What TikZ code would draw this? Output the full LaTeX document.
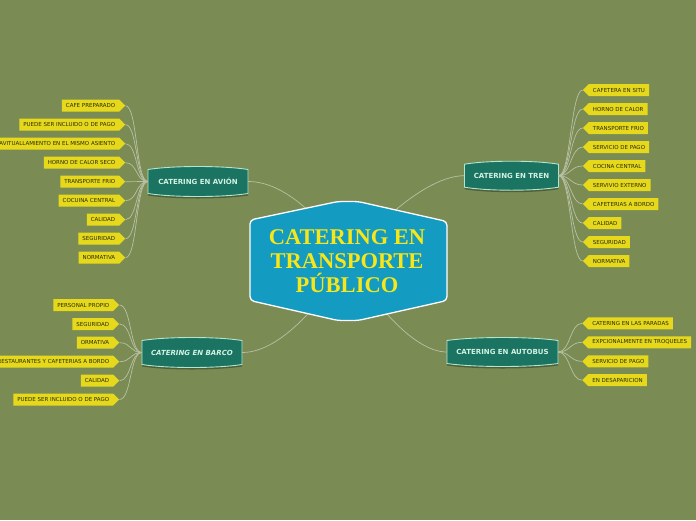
\documentclass[tikz,border=0pt]{standalone}
\usepackage{fontspec}
\setmainfont{Liberation Serif}
\newfontfamily\leaffont{DejaVu Sans}
\usetikzlibrary{shapes.symbols,calc}
\definecolor{bg}{HTML}{7A8C54}
\definecolor{centerfill}{HTML}{139BC1}
\definecolor{centertext}{HTML}{F7E619}
\definecolor{brfill}{HTML}{1B7461}
\definecolor{brline}{HTML}{B2E6D0}
\definecolor{brtext}{HTML}{D2F2E4}
\definecolor{brshadow}{HTML}{4E5F38}
\definecolor{leaffill}{HTML}{E6D81B}
\definecolor{leaftext}{HTML}{2A2A10}
\definecolor{conncol}{HTML}{B9C0A6}
\tikzset{
  conn/.style={draw=conncol, line width=0.7pt},
  leafbase/.style={signal, fill=leaffill, text=leaftext,
    font=\leaffont\fontsize{5.5}{6}\selectfont,
    minimum height=12pt, inner ysep=0pt, inner xsep=4pt, signal pointer angle=90},
  leafL/.style={leafbase, signal to=east, anchor=east},
  leafR/.style={leafbase, signal to=west, anchor=west},
  brlabel/.style={text=brtext, font=\leaffont\bfseries\fontsize{7}{8}\selectfont, inner sep=0pt},
  bigtext/.style={text=centertext, align=center, font=\bfseries\fontsize{22.5}{24}\selectfont, inner sep=0pt}
}
\newcommand\mybranch[7]{%
  \begin{scope}[shift={(#2,#3)}]
    \fill[brshadow] (-#4,{-#5+4}) .. controls ({-#4/2},{-#5}) and ({#4/2},{-#5}) .. (#4,{-#5+4}) -- (#4,{#5-0.5}) .. controls ({#4/2},{#5+3.5}) and ({-#4/2},{#5+3.5}) .. (-#4,{#5-0.5}) -- cycle;
    \filldraw[fill=brfill, draw=brline, line width=0.9pt] (-#4,{-#5+2.5}) .. controls ({-#4/2},{-#5-1.5}) and ({#4/2},{-#5-1.5}) .. (#4,{-#5+2.5}) -- (#4,{#5-2.5}) .. controls ({#4/2},{#5+1.5}) and ({-#4/2},{#5+1.5}) .. (-#4,{#5-2.5}) -- cycle;
    \node[brlabel, minimum width={2*#4}, minimum height={2*#5}] (#1) at (0,0) {#7#6};
  \end{scope}}
\begin{document}
\begin{tikzpicture}[x=1pt,y=-1pt]
\fill[bg] (0,0) rectangle (696,520);
\useasboundingbox (0,0) rectangle (696,520);
\coordinate (mainc) at (348,260);

% branches
\mybranch{avion}{198}{181.5}{50}{14.5}{CATERING EN AVIÓN}{}
\mybranch{tren}{511.5}{175.7}{47}{14}{CATERING EN TREN}{}
\mybranch{barco}{192}{352.5}{50}{14.5}{CATERING EN BARCO}{\itshape}
\mybranch{bus}{502.5}{352}{55.5}{14}{CATERING EN AUTOBUS}{}

% avion leaves
\node[leafL] (a1) at (125.5,105.7) {CAFE PREPARADO};
\node[leafL] (a2) at (125.5,124.7) {PUEDE SER INCLUIDO O DE PAGO};
\node[leafL] (a3) at (125.5,143.7) {AVITUALLAMIENTO EN EL MISMO ASIENTO};
\node[leafL] (a4) at (125.5,162.7) {HORNO DE CALOR SECO};
\node[leafL] (a5) at (125.5,181.7) {TRANSPORTE FRIO};
\node[leafL] (a6) at (125.5,200.7) {COCUINA CENTRAL};
\node[leafL] (a7) at (125.5,219.7) {CALIDAD};
\node[leafL] (a8) at (125.5,238.7) {SEGURIDAD};
\node[leafL] (a9) at (125.5,257.7) {NORMATIVA};
\foreach \i in {1,...,9} \draw[conn] (avion.west) .. controls +(-12,0) and +(12,0) .. (a\i.east);

% tren leaves
\node[leafR] (t1) at (582.7,90) {CAFETERA EN SITU};
\node[leafR] (t2) at (582.7,109) {HORNO DE CALOR};
\node[leafR] (t3) at (582.7,128) {TRANSPORTE FRIO};
\node[leafR] (t4) at (582.7,147) {SERVICIO DE PAGO};
\node[leafR] (t5) at (582.7,166) {COCINA CENTRAL};
\node[leafR] (t6) at (582.7,185) {SERVIVIO EXTERNO};
\node[leafR] (t7) at (582.7,204) {CAFETERIAS A BORDO};
\node[leafR] (t8) at (582.7,223) {CALIDAD};
\node[leafR] (t9) at (582.7,242) {SEGURIDAD};
\node[leafR] (t10) at (582.7,261) {NORMATIVA};
\foreach \i in {1,...,10} \draw[conn] (tren.east) .. controls +(12,0) and +(-12,0) .. (t\i.west);

% barco leaves
\node[leafL] (b1) at (119.5,305) {PERSONAL PROPIO};
\node[leafL] (b2) at (119.5,324) {SEGURIDAD};
\node[leafL] (b3) at (119.5,342.7) {ORMATIVA};
\node[leafL] (b4) at (119.5,361.7) {RESTAURANTES Y CAFETERIAS A BORDO};
\node[leafL] (b5) at (119.5,380.7) {CALIDAD};
\node[leafL] (b6) at (119.5,399.5) {PUEDE SER INCLUIDO O DE PAGO};
\foreach \i in {1,...,6} \draw[conn] (barco.west) .. controls +(-12,0) and +(12,0) .. (b\i.east);

% autobus leaves
\node[leafR] (u1) at (582,323.3) {CATERING EN LAS PARADAS};
\node[leafR] (u2) at (582,342.3) {EXPCIONALMENTE EN TROQUELES};
\node[leafR] (u3) at (582,361.3) {SERVICIO DE PAGO};
\node[leafR] (u4) at (582,380.2) {EN DESAPARICION};
\foreach \i in {1,...,4} \draw[conn] (bus.east) .. controls +(12,0) and +(-12,0) .. (u\i.west);

% main connectors
\draw[conn] (avion.east) .. controls (290,181.5) and (330,230) .. (mainc);
\draw[conn] (tren.west) .. controls (425,175.7) and (370,230) .. (mainc);
\draw[conn] (barco.east) .. controls (285,352.5) and (330,290) .. (mainc);
\draw[conn] (bus.west) .. controls (410,352) and (365,290) .. (mainc);

% central shape
\filldraw[fill=centerfill, draw=white, line width=1.3pt, rounded corners=4pt]
  (250,220) -- (338,201.5) -- (358,201.5) -- (447,221.5) -- (447,300.5) -- (358,320.5) -- (338,320.5) -- (250,300.5) -- cycle;
\node[bigtext] (main) at (347,261) {CATERING EN\\TRANSPORTE\\PÚBLICO};
\end{tikzpicture}
\end{document}
